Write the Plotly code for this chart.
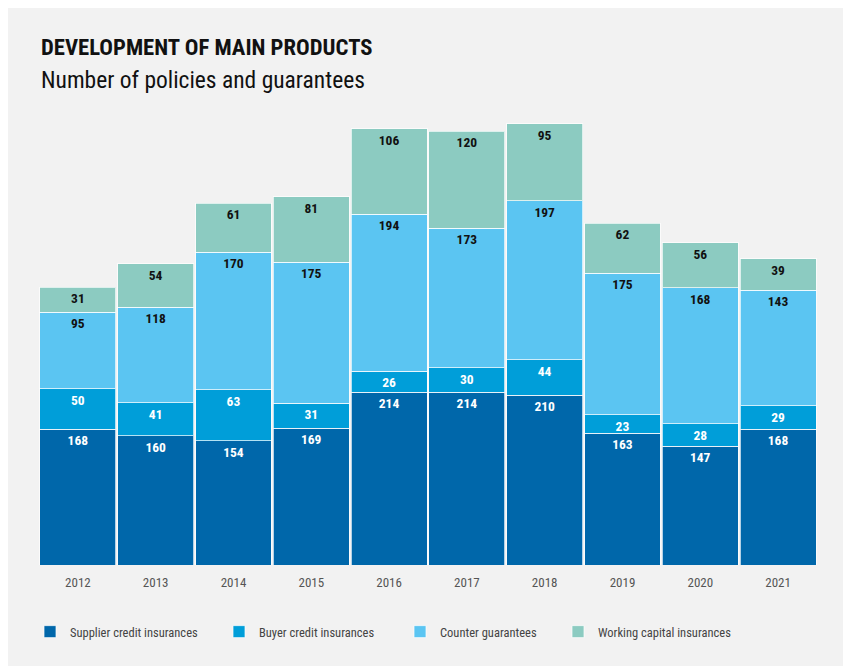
import plotly.graph_objects as go

years = ["2012", "2013", "2014", "2015", "2016", "2017", "2018", "2019", "2020", "2021"]
supplier = [168, 160, 154, 169, 214, 214, 210, 163, 147, 168]
buyer = [50, 41, 63, 31, 26, 30, 44, 23, 28, 29]
counter = [95, 118, 170, 175, 194, 173, 197, 175, 168, 143]
working = [31, 54, 61, 81, 106, 120, 95, 62, 56, 39]

series = [
    ("Supplier credit insurances", supplier, "#0067aa", "#ffffff"),
    ("Buyer credit insurances", buyer, "#009ed9", "#ffffff"),
    ("Counter guarantees", counter, "#5bc5f2", "#111111"),
    ("Working capital insurances", working, "#8ccbc1", "#111111"),
]

FONT = "Roboto Condensed, Roboto, sans-serif"

L, R, T, B = 39, 28, 110, 101
W, H = 845, 666
pw = W - L - R
ph = H - T - B

legend_names = ["legend", "legend2", "legend3", "legend4"]
legend_text_x = [70, 259, 440, 598]

fig = go.Figure()
for (name, vals, color, tcolor), lg in zip(series, legend_names):
    fig.add_trace(go.Bar(
        x=years, y=vals, name=name, legend=lg,
        marker=dict(color=color, line=dict(color="rgba(255,255,255,0.7)", width=1)),
        text=[str(v) for v in vals],
        textposition="inside", insidetextanchor="end", textangle=0,
        constraintext="none",
        textfont=dict(family=FONT, size=13.5, color=tcolor, weight="bold"),
        hoverinfo="x+y+name",
    ))

layout_legends = {}
for lg, tx in zip(legend_names, legend_text_x):
    layout_legends[lg] = dict(
        orientation="h", x=(tx - 40 - L) / pw, xanchor="left",
        y=-(632 - 565) / ph, yanchor="middle",
        font=dict(family=FONT, size=12.5, color="#444"), itemwidth=30,
        bgcolor="rgba(0,0,0,0)", borderwidth=0,
    )

fig.update_layout(
    width=W, height=H,
    margin=dict(l=L, r=R, t=T, b=B),
    barmode="stack", bargap=0.025,
    paper_bgcolor="#ffffff", plot_bgcolor="rgba(0,0,0,0)",
    font=dict(family=FONT, color="#444"),
    xaxis=dict(showgrid=False, showline=False, ticks="", tickfont=dict(size=13, color="#555"), ticklabelstandoff=8),
    yaxis=dict(range=[0, ph / 0.808], visible=False),
    showlegend=True,
    shapes=[dict(type="rect", xref="paper", yref="paper", layer="below",
                 x0=(8 - L) / pw, x1=(843 - L) / pw, y0=-(B + 5) / ph, y1=1 + (T - 8) / ph,
                 fillcolor="#f2f2f2", line=dict(width=0))],
    annotations=[
        dict(text="<b>DEVELOPMENT OF MAIN PRODUCTS</b>", xref="paper", yref="paper",
             x=0, y=1 + (T - 47) / ph, xanchor="left", yanchor="middle", showarrow=False,
             font=dict(family=FONT, size=22.7, color="#111")),
        dict(text="Number of policies and guarantees", xref="paper", yref="paper",
             x=0, y=1 + (T - 80) / ph, xanchor="left", yanchor="middle", showarrow=False,
             font=dict(family=FONT, size=23.5, color="#111")),
    ],
    **layout_legends,
)

fig.write_html("out.html")
